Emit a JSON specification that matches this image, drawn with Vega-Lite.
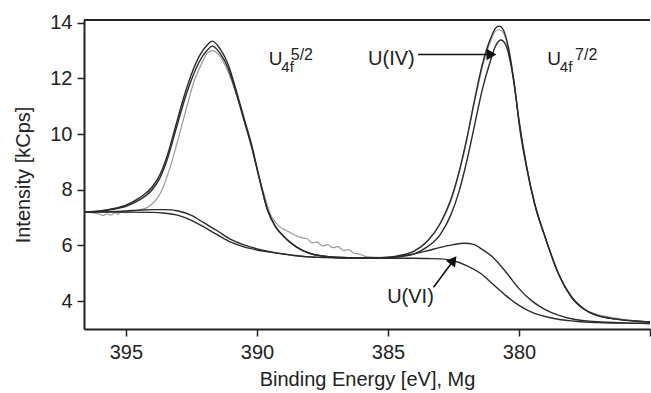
{
  "$schema": "https://vega.github.io/schema/vega-lite/v6.json",
  "width": 566,
  "height": 309,
  "autosize": "none",
  "padding": {"left": 84, "top": 20, "right": 1, "bottom": 64},
  "background": "white",
  "config": {
    "font": "Liberation Sans",
    "view": {"stroke": null},
    "axis": {"domainColor": "#222", "domainWidth": 2, "tickColor": "#222", "tickWidth": 1.5, "tickSize": 7, "labelFontSize": 20, "labelColor": "#222", "titleFontSize": 20, "titleFontWeight": "normal", "titleColor": "#222", "grid": false, "labelFont": "Liberation Sans", "titleFont": "Liberation Sans"},
    "axisX": {"labelPadding": 6, "titlePadding": 7},
    "axisY": {"labelPadding": 5, "titlePadding": 16}
  },
  "datasets": {
    "raw": [
      {"e":396.6,"i":7.20},{"e":396.4,"i":7.19},{"e":396.2,"i":7.16},{"e":396.0,"i":7.12},{"e":395.9,"i":7.08},{"e":395.8,"i":7.10},{"e":395.7,"i":7.14},{"e":395.6,"i":7.09},{"e":395.5,"i":7.13},{"e":395.4,"i":7.18},{"e":395.3,"i":7.12},{"e":395.2,"i":7.20},{"e":395.0,"i":7.18},{"e":394.8,"i":7.24},{"e":394.6,"i":7.26},{"e":394.4,"i":7.30},{"e":394.2,"i":7.36},{"e":394.0,"i":7.50},{"e":393.8,"i":7.70},{"e":393.6,"i":8.05},{"e":393.3,"i":8.85},{"e":393.0,"i":9.85},{"e":392.7,"i":10.90},{"e":392.4,"i":11.90},{"e":392.1,"i":12.55},{"e":391.9,"i":12.90},{"e":391.7,"i":13.00},{"e":391.5,"i":12.90},{"e":391.2,"i":12.45},{"e":390.9,"i":11.75},{"e":390.6,"i":10.85},{"e":390.3,"i":9.85},{"e":390.0,"i":8.75},{"e":389.7,"i":7.75},{"e":389.5,"i":7.15},{"e":389.3,"i":6.85},{"e":389.1,"i":6.65},{"e":388.9,"i":6.55},{"e":388.7,"i":6.45},{"e":388.5,"i":6.35},{"e":388.3,"i":6.28},{"e":388.1,"i":6.25},{"e":387.9,"i":6.10},{"e":387.7,"i":6.12},{"e":387.5,"i":5.98},{"e":387.3,"i":6.03},{"e":387.1,"i":5.92},{"e":386.9,"i":5.96},{"e":386.7,"i":5.82},{"e":386.5,"i":5.85},{"e":386.3,"i":5.72},{"e":386.1,"i":5.70},{"e":385.9,"i":5.62},{"e":385.6,"i":5.58},{"e":385.3,"i":5.57},{"e":385.0,"i":5.58},{"e":384.5,"i":5.65},{"e":384.0,"i":5.80},{"e":383.5,"i":6.15},{"e":383.0,"i":6.80},{"e":382.6,"i":7.60},{"e":382.3,"i":8.55},{"e":382.0,"i":9.75},{"e":381.7,"i":11.15},{"e":381.4,"i":12.40},{"e":381.1,"i":13.30},{"e":380.9,"i":13.70},{"e":380.76,"i":13.75},{"e":380.6,"i":13.65},{"e":380.4,"i":13.05},{"e":380.2,"i":11.95},{"e":380.0,"i":10.50},{"e":379.7,"i":8.80},{"e":379.4,"i":7.50},{"e":379.0,"i":6.30},{"e":378.5,"i":5.00},{"e":378.0,"i":4.18},{"e":377.5,"i":3.72},{"e":377.2,"i":3.58},{"e":377.0,"i":3.52},{"e":376.8,"i":3.47},{"e":376.6,"i":3.44},{"e":376.4,"i":3.40},{"e":376.2,"i":3.38},{"e":376.0,"i":3.34},{"e":375.8,"i":3.33},{"e":375.6,"i":3.30},{"e":375.4,"i":3.29},{"e":375.2,"i":3.27},{"e":375.0,"i":3.26}
    ],
    "fits": [
      {"s":"fit","e":396.6,"i":7.20},{"s":"fit","e":396.0,"i":7.24},{"s":"fit","e":395.5,"i":7.32},{"s":"fit","e":395.0,"i":7.45},{"s":"fit","e":394.5,"i":7.70},{"s":"fit","e":394.0,"i":8.10},{"s":"fit","e":393.7,"i":8.55},{"s":"fit","e":393.4,"i":9.30},{"s":"fit","e":393.1,"i":10.30},{"s":"fit","e":392.8,"i":11.30},{"s":"fit","e":392.5,"i":12.15},{"s":"fit","e":392.2,"i":12.80},{"s":"fit","e":391.9,"i":13.20},{"s":"fit","e":391.7,"i":13.34},{"s":"fit","e":391.4,"i":13.05},{"s":"fit","e":391.1,"i":12.50},{"s":"fit","e":390.8,"i":11.60},{"s":"fit","e":390.5,"i":10.60},{"s":"fit","e":390.2,"i":9.60},{"s":"fit","e":389.9,"i":8.40},{"s":"fit","e":389.6,"i":7.30},{"s":"fit","e":389.3,"i":6.70},{"s":"fit","e":389.0,"i":6.35},{"s":"fit","e":388.5,"i":5.95},{"s":"fit","e":388.0,"i":5.72},{"s":"fit","e":387.5,"i":5.62},{"s":"fit","e":387.0,"i":5.58},{"s":"fit","e":386.0,"i":5.56},{"s":"fit","e":385.5,"i":5.56},{"s":"fit","e":385.0,"i":5.58},{"s":"fit","e":384.5,"i":5.65},{"s":"fit","e":384.0,"i":5.80},{"s":"fit","e":383.5,"i":6.15},{"s":"fit","e":383.0,"i":6.80},{"s":"fit","e":382.6,"i":7.65},{"s":"fit","e":382.3,"i":8.60},{"s":"fit","e":382.0,"i":9.80},{"s":"fit","e":381.7,"i":11.20},{"s":"fit","e":381.4,"i":12.50},{"s":"fit","e":381.1,"i":13.40},{"s":"fit","e":380.9,"i":13.80},{"s":"fit","e":380.76,"i":13.88},{"s":"fit","e":380.6,"i":13.75},{"s":"fit","e":380.4,"i":13.10},{"s":"fit","e":380.2,"i":11.95},{"s":"fit","e":380.0,"i":10.50},{"s":"fit","e":379.7,"i":8.80},{"s":"fit","e":379.4,"i":7.50},{"s":"fit","e":379.0,"i":6.30},{"s":"fit","e":378.5,"i":5.00},{"s":"fit","e":378.0,"i":4.15},{"s":"fit","e":377.5,"i":3.70},{"s":"fit","e":377.0,"i":3.48},{"s":"fit","e":376.5,"i":3.38},{"s":"fit","e":376.0,"i":3.32},{"s":"fit","e":375.5,"i":3.28},{"s":"fit","e":375.0,"i":3.25},
      {"s":"uiv","e":396.6,"i":7.20},{"s":"uiv","e":396.0,"i":7.23},{"s":"uiv","e":395.5,"i":7.30},{"s":"uiv","e":395.0,"i":7.41},{"s":"uiv","e":394.5,"i":7.63},{"s":"uiv","e":394.0,"i":8.00},{"s":"uiv","e":393.7,"i":8.43},{"s":"uiv","e":393.4,"i":9.16},{"s":"uiv","e":393.1,"i":10.14},{"s":"uiv","e":392.8,"i":11.12},{"s":"uiv","e":392.5,"i":11.95},{"s":"uiv","e":392.2,"i":12.60},{"s":"uiv","e":391.9,"i":13.01},{"s":"uiv","e":391.7,"i":13.16},{"s":"uiv","e":391.4,"i":12.89},{"s":"uiv","e":391.1,"i":12.37},{"s":"uiv","e":390.8,"i":11.50},{"s":"uiv","e":390.5,"i":10.52},{"s":"uiv","e":390.2,"i":9.54},{"s":"uiv","e":389.9,"i":8.36},{"s":"uiv","e":389.6,"i":7.27},{"s":"uiv","e":389.3,"i":6.68},{"s":"uiv","e":389.0,"i":6.34},{"s":"uiv","e":388.5,"i":5.95},{"s":"uiv","e":388.0,"i":5.72},{"s":"uiv","e":387.5,"i":5.62},{"s":"uiv","e":387.0,"i":5.58},{"s":"uiv","e":386.0,"i":5.56},{"s":"uiv","e":385.5,"i":5.56},{"s":"uiv","e":385.0,"i":5.56},{"s":"uiv","e":384.5,"i":5.60},{"s":"uiv","e":384.0,"i":5.70},{"s":"uiv","e":383.5,"i":5.95},{"s":"uiv","e":383.0,"i":6.40},{"s":"uiv","e":382.6,"i":7.10},{"s":"uiv","e":382.3,"i":7.90},{"s":"uiv","e":382.0,"i":9.00},{"s":"uiv","e":381.7,"i":10.30},{"s":"uiv","e":381.4,"i":11.60},{"s":"uiv","e":381.1,"i":12.60},{"s":"uiv","e":380.9,"i":13.15},{"s":"uiv","e":380.7,"i":13.38},{"s":"uiv","e":380.5,"i":13.20},{"s":"uiv","e":380.3,"i":12.45},{"s":"uiv","e":380.1,"i":11.20},{"s":"uiv","e":380.0,"i":10.40},{"s":"uiv","e":379.7,"i":8.75},{"s":"uiv","e":379.4,"i":7.48},{"s":"uiv","e":379.0,"i":6.29},{"s":"uiv","e":378.5,"i":5.00},{"s":"uiv","e":378.0,"i":4.15},{"s":"uiv","e":377.5,"i":3.70},{"s":"uiv","e":377.0,"i":3.48},{"s":"uiv","e":376.5,"i":3.38},{"s":"uiv","e":376.0,"i":3.32},{"s":"uiv","e":375.5,"i":3.28},{"s":"uiv","e":375.0,"i":3.25},
      {"s":"bg","e":396.6,"i":7.20},{"s":"bg","e":396.0,"i":7.20},{"s":"bg","e":395.0,"i":7.20},{"s":"bg","e":394.0,"i":7.19},{"s":"bg","e":393.5,"i":7.16},{"s":"bg","e":393.0,"i":7.08},{"s":"bg","e":392.5,"i":6.90},{"s":"bg","e":392.0,"i":6.65},{"s":"bg","e":391.5,"i":6.38},{"s":"bg","e":391.0,"i":6.12},{"s":"bg","e":390.5,"i":5.95},{"s":"bg","e":390.0,"i":5.84},{"s":"bg","e":389.5,"i":5.76},{"s":"bg","e":389.0,"i":5.69},{"s":"bg","e":388.5,"i":5.63},{"s":"bg","e":388.0,"i":5.59},{"s":"bg","e":387.0,"i":5.56},{"s":"bg","e":386.0,"i":5.55},{"s":"bg","e":385.0,"i":5.54},{"s":"bg","e":384.0,"i":5.54},{"s":"bg","e":383.5,"i":5.53},{"s":"bg","e":383.0,"i":5.52},{"s":"bg","e":382.5,"i":5.45},{"s":"bg","e":382.0,"i":5.28},{"s":"bg","e":381.5,"i":5.02},{"s":"bg","e":381.0,"i":4.62},{"s":"bg","e":380.5,"i":4.20},{"s":"bg","e":380.0,"i":3.85},{"s":"bg","e":379.5,"i":3.60},{"s":"bg","e":379.0,"i":3.45},{"s":"bg","e":378.5,"i":3.35},{"s":"bg","e":378.0,"i":3.29},{"s":"bg","e":377.5,"i":3.25},{"s":"bg","e":377.0,"i":3.23},{"s":"bg","e":376.0,"i":3.21},{"s":"bg","e":375.0,"i":3.20},
      {"s":"uvi","e":396.6,"i":7.20},{"s":"uvi","e":396.0,"i":7.21},{"s":"uvi","e":395.0,"i":7.24},{"s":"uvi","e":394.5,"i":7.27},{"s":"uvi","e":394.0,"i":7.29},{"s":"uvi","e":393.5,"i":7.29},{"s":"uvi","e":393.0,"i":7.24},{"s":"uvi","e":392.5,"i":7.08},{"s":"uvi","e":392.0,"i":6.80},{"s":"uvi","e":391.5,"i":6.52},{"s":"uvi","e":391.0,"i":6.22},{"s":"uvi","e":390.5,"i":6.02},{"s":"uvi","e":390.0,"i":5.88},{"s":"uvi","e":389.5,"i":5.78},{"s":"uvi","e":389.0,"i":5.70},{"s":"uvi","e":388.5,"i":5.64},{"s":"uvi","e":388.0,"i":5.59},{"s":"uvi","e":387.0,"i":5.56},{"s":"uvi","e":386.0,"i":5.55},{"s":"uvi","e":385.0,"i":5.56},{"s":"uvi","e":384.5,"i":5.62},{"s":"uvi","e":384.0,"i":5.70},{"s":"uvi","e":383.5,"i":5.81},{"s":"uvi","e":383.0,"i":5.93},{"s":"uvi","e":382.5,"i":6.03},{"s":"uvi","e":382.1,"i":6.08},{"s":"uvi","e":381.7,"i":6.03},{"s":"uvi","e":381.5,"i":5.92},{"s":"uvi","e":381.0,"i":5.58},{"s":"uvi","e":380.5,"i":5.05},{"s":"uvi","e":380.0,"i":4.45},{"s":"uvi","e":379.5,"i":4.00},{"s":"uvi","e":379.0,"i":3.70},{"s":"uvi","e":378.5,"i":3.50},{"s":"uvi","e":378.0,"i":3.37},{"s":"uvi","e":377.5,"i":3.30},{"s":"uvi","e":377.0,"i":3.26},{"s":"uvi","e":376.0,"i":3.22},{"s":"uvi","e":375.0,"i":3.20}
    ],
    "arrows": [
      {"e":383.85,"i":12.86,"e2":381.1,"i2":12.86},
      {"e":383.26,"i":4.50,"e2":382.55,"i2":5.40}
    ],
    "heads": [
      {"e":381.05,"i":12.86,"ang":90},
      {"e":382.5,"i":5.47,"ang":37}
    ],
    "labels": [
      {"e":389.55,"i":12.47,"t":"U","fs":19},
      {"e":389.07,"i":12.23,"t":"4f","fs":15},
      {"e":388.71,"i":12.66,"t":"5/2","fs":16},
      {"e":378.92,"i":12.47,"t":"U","fs":19},
      {"e":378.44,"i":12.23,"t":"4f","fs":15},
      {"e":377.86,"i":12.68,"t":"7/2","fs":16},
      {"e":385.76,"i":12.47,"t":"U(IV)","fs":20},
      {"e":385.03,"i":3.95,"t":"U(VI)","fs":20}
    ],
    "frame": [
      {"e":375,"e2":396.6,"i":14.1}
    ]
  },
  "encoding": {
    "x": {"field": "e", "type": "quantitative",
      "scale": {"domain": [375, 396.6], "reverse": true, "nice": false, "zero": false},
      "axis": {"values": [375, 380, 385, 390, 395], "labelExpr": "datum.value == 375 ? '' : datum.label", "title": "Binding Energy [eV], Mg"}},
    "y": {"field": "i", "type": "quantitative",
      "scale": {"domain": [3, 14.1], "nice": false, "zero": false},
      "axis": {"values": [4, 6, 8, 10, 12, 14], "title": "Intensity [kCps]"}}
  },
  "layer": [
    {"data": {"name": "raw"}, "mark": {"type": "line", "color": "#9a9a9a", "strokeWidth": 1.2, "interpolate": "monotone", "clip": true}},
    {"data": {"name": "fits"}, "mark": {"type": "line", "color": "#2b2b2b", "strokeWidth": 1.4, "interpolate": "monotone", "clip": true},
      "encoding": {"detail": {"field": "s", "type": "nominal"}}},
    {"data": {"name": "frame"}, "mark": {"type": "rule", "color": "#222", "strokeWidth": 2},
      "encoding": {"x2": {"field": "e2"}}},
    {"data": {"name": "arrows"}, "mark": {"type": "rule", "color": "#111", "strokeWidth": 1.6},
      "encoding": {"x2": {"field": "e2"}, "y2": {"field": "i2"}}},
    {"data": {"name": "heads"}, "mark": {"type": "point", "shape": "triangle-up", "filled": true, "color": "#111", "opacity": 1, "size": 130},
      "encoding": {"angle": {"field": "ang", "type": "quantitative", "scale": null}}},
    {"data": {"name": "labels"}, "mark": {"type": "text", "align": "left", "baseline": "alphabetic", "color": "#222", "font": "Liberation Sans"},
      "encoding": {"text": {"field": "t"}, "size": {"field": "fs", "type": "quantitative", "scale": null}}}
  ]
}
